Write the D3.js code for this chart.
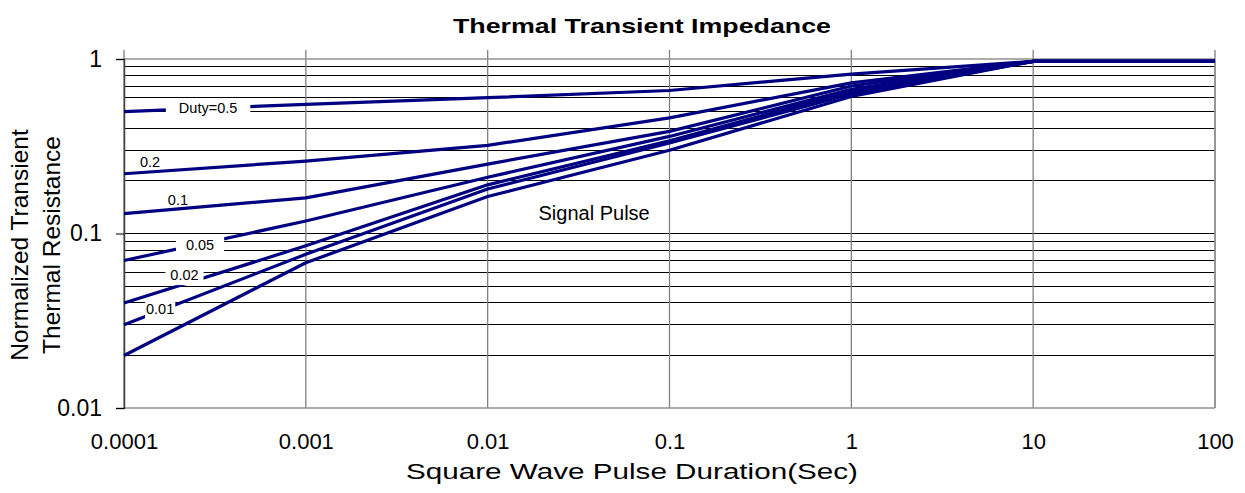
<!DOCTYPE html>
<html>
<head>
<meta charset="utf-8">
<script src="https://cdn.jsdelivr.net/npm/d3@7"></script>
<style>
  body { margin: 0; background: #fff; }
  text { font-family: "Liberation Sans", Arial, sans-serif; }
</style>
</head>
<body>
<div class="canvas"></div>
<script>
// pulse durations (sec) where the curves bend
const durations = [0.0001, 0.001, 0.01, 0.1, 1, 10, 100];
const duty05 = [0.5, 0.55, 0.6, 0.66, 0.82, 0.97, 0.97];
const duty02 = [0.22, 0.26, 0.32, 0.46, 0.73, 0.97, 0.97];
const duty01 = [0.13, 0.16, 0.25, 0.385, 0.70, 0.97, 0.97];
const duty005 = [0.07, 0.118, 0.21, 0.36, 0.67, 0.97, 0.97];
const duty002 = [0.04, 0.085, 0.19, 0.34, 0.65, 0.97, 0.97];
const duty001 = [0.03, 0.076, 0.18, 0.33, 0.63, 0.97, 0.97];
const single = [0.02, 0.068, 0.163, 0.30, 0.61, 0.97, 0.97];
const seriesList = [duty05, duty02, duty01, duty005, duty002, duty001, single];

const xTicks = [0.0001, 0.001, 0.01, 0.1, 1, 10, 100];
const xTickLabels = ["0.0001", "0.001", "0.01", "0.1", "1", "10", "100"];
const yTicks = [0.01, 0.1, 1];
const yTickLabels = ["0.01", "0.1", "1"];

// series labels, anchored in data space
const labelText = ["Duty=0.5", "0.2", "0.1", "0.05", "0.02", "0.01"];
const labelX = [0.00029, 0.000139, 0.000198, 0.000262, 0.000215, 0.000158];
const labelY = [0.524, 0.257, 0.1556, 0.0859, 0.0578, 0.0369];

const W = 1245, H = 493;
const margin = {top: 59, right: 30, bottom: 85, left: 124};
const graphWidth = W - margin.left - margin.right;
const graphHeight = H - margin.top - margin.bottom;

const svg = d3.select(".canvas")
  .append("svg")
    .attr("width", W)
    .attr("height", H);

const graph = svg.append("g")
    .attr("transform", `translate(${margin.left},${margin.top})`);

const x = d3.scaleLog().domain([0.0001, 100]).range([0, graphWidth]);
const y = d3.scaleLog().domain([0.01, 1]).range([graphHeight, 0]);

// horizontal minor grid (black)
const minorY = [];
[0.01, 0.1].forEach(dec => {
  for (let k = 2; k <= 9; k++) minorY.push(dec * k);
});
minorY.push(0.1);
graph.selectAll(".hgrid")
  .data(minorY)
  .enter().append("line")
    .attr("x1", 0).attr("x2", graphWidth)
    .attr("y1", d => y(d)).attr("y2", d => y(d))
    .attr("stroke", "#000").attr("stroke-width", 1)
    .attr("shape-rendering", "crispEdges");

// vertical decade grid (gray), sticking out above the plot
graph.selectAll(".vgrid")
  .data(xTicks)
  .enter().append("line")
    .attr("x1", d => x(d)).attr("x2", d => x(d))
    .attr("y1", -9).attr("y2", graphHeight)
    .attr("stroke", "#808080").attr("stroke-width", 1.3);

// frame
graph.append("line").attr("x1", 0).attr("x2", graphWidth).attr("y1", 0).attr("y2", 0)
  .attr("stroke", "#909090").attr("stroke-width", 1.5);
graph.append("line").attr("x1", 0).attr("x2", graphWidth).attr("y1", graphHeight).attr("y2", graphHeight)
  .attr("stroke", "#909090").attr("stroke-width", 1.5);
graph.append("line").attr("x1", graphWidth).attr("x2", graphWidth).attr("y1", 0).attr("y2", graphHeight)
  .attr("stroke", "#909090").attr("stroke-width", 1.5);

// y axis
const yAxis = d3.axisLeft(y)
  .tickValues(yTicks)
  .tickSize(8)
  .tickPadding(14)
  .tickFormat((d, i) => yTickLabels[i]);
const yAxisGroup = graph.append("g").call(yAxis);
yAxisGroup.select(".domain").attr("stroke", "#404040").attr("stroke-width", 1.5);
yAxisGroup.selectAll("text").attr("font-size", 23).attr("fill", "#000")
  .style("font-family", '"Liberation Sans", Arial, sans-serif');

// x tick labels
const xAxis = d3.axisBottom(x)
  .tickValues(xTicks)
  .tickSize(0)
  .tickPadding(25)
  .tickFormat((d, i) => xTickLabels[i]);
const xAxisGroup = graph.append("g")
  .attr("transform", `translate(0,${graphHeight})`)
  .call(xAxis);
xAxisGroup.select(".domain").remove();
xAxisGroup.selectAll("text").attr("font-size", 22).attr("fill", "#000")
  .style("font-family", '"Liberation Sans", Arial, sans-serif');

// curves
const line = d3.line()
  .x((d, i) => x(durations[i]))
  .y(d => y(d));

graph.selectAll(".curve")
  .data(seriesList)
  .enter().append("path")
    .attr("d", d => line(d))
    .attr("fill", "none")
    .attr("stroke", "#000080")
    .attr("stroke-width", 3.2)
    .attr("stroke-linejoin", "round");

// series labels with white boxes
const padX = [13, 0, 0, 10, 5, 1];
const showBox = [true, false, false, true, true, true];
labelText.forEach((t, i) => {
  const g = graph.append("g");
  const rect = g.append("rect").attr("fill", "#fff");
  const txt = g.append("text")
    .attr("x", x(labelX[i]))
    .attr("y", y(labelY[i]))
    .attr("dy", "0.35em")
    .attr("text-anchor", "middle")
    .attr("font-size", 14.5)
    .attr("fill", "#000")
    .text(t);
  const bb = txt.node().getBBox();
  if (showBox[i]) {
    rect.attr("x", bb.x - padX[i]).attr("y", bb.y - 2)
      .attr("width", bb.width + 2 * padX[i]).attr("height", bb.height + 4);
  }
});

graph.append("text")
  .attr("x", x(0.0385))
  .attr("y", y(0.131))
  .attr("dy", "0.35em")
  .attr("text-anchor", "middle")
  .attr("font-size", 20)
  .text("Signal Pulse");

// titles (the original text is drawn a little wide)
svg.append("text")
  .attr("x", 642).attr("y", 33)
  .attr("text-anchor", "middle")
  .attr("font-size", 21)
  .attr("font-weight", "bold")
  .attr("textLength", 378)
  .attr("lengthAdjust", "spacingAndGlyphs")
  .text("Thermal Transient Impedance");

svg.append("text")
  .attr("x", 632).attr("y", 479)
  .attr("text-anchor", "middle")
  .attr("font-size", 22)
  .attr("textLength", 452)
  .attr("lengthAdjust", "spacingAndGlyphs")
  .text("Square Wave Pulse Duration(Sec)");

const yTitle = svg.append("text")
  .attr("transform", "translate(0,245) rotate(-90)")
  .attr("text-anchor", "middle")
  .attr("font-size", 24.5);
yTitle.append("tspan").attr("x", 0).attr("y", 28).text("Normalized Transient");
yTitle.append("tspan").attr("x", 0).attr("y", 60).text("Thermal Resistance");
</script>
</body>
</html>
